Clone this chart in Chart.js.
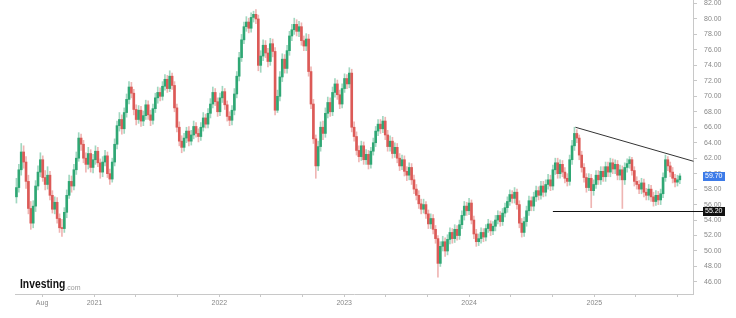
<!DOCTYPE html>
<html>
<head>
<meta charset="utf-8">
<script src="https://cdn.jsdelivr.net/npm/chart.js@4.4.1/dist/chart.umd.min.js"></script>
<style>
  html, body { margin: 0; padding: 0; background: #fff; }
</style>
</head>
<body>
<canvas id="chart" width="736" height="318"></canvas>
<script>
// weekly candles, first week starting on this date
const firstWeek = '2020-05-18';

const opens = [
  57.0, 58.2, 60.5, 62.8, 61.5, 59.0, 55.5, 53.6, 55.8, 58.4,
  60.2, 61.8, 59.5, 58.6, 59.8, 57.2, 55.4, 56.3, 54.2, 53.0,
  52.9, 55.0, 57.2, 59.0, 58.4, 60.5, 62.0, 64.6, 63.8, 62.0,
  61.2, 62.6, 60.8, 61.8, 62.9, 61.4, 60.2, 61.5, 62.3, 60.0,
  59.3, 61.5, 63.8, 66.2, 67.0, 65.8, 67.9, 69.6, 71.2, 70.4,
  68.3, 67.0, 68.2, 66.8, 67.5, 68.9, 67.6, 66.9, 68.4, 69.8,
  70.5, 70.0, 71.3, 72.2, 71.0, 72.6, 71.4, 68.5, 66.0, 64.2,
  63.4, 64.6, 65.5, 64.2, 65.0, 66.1, 65.2, 64.8, 66.0, 67.2,
  66.4, 67.8, 69.0, 70.5, 69.3, 68.0, 69.8, 70.6, 68.9, 67.4,
  66.9, 68.2, 70.3, 72.6, 75.0, 77.3, 79.0, 79.6, 78.8, 80.2,
  80.6, 80.0, 74.0, 75.2, 76.6, 75.6, 74.5, 76.8, 75.8, 68.2,
  70.0, 72.5, 74.8, 73.6, 75.9, 77.8, 78.6, 79.3, 78.4, 79.0,
  77.2, 76.5, 77.4, 73.2, 69.0, 64.5, 61.0, 63.5, 66.0, 65.2,
  67.8, 69.2, 68.0, 70.5, 71.6, 70.2, 69.0, 71.0, 72.3, 71.6,
  73.0, 66.0, 64.8, 63.0, 62.2, 63.6, 61.8, 62.5, 61.2, 62.9,
  64.0, 65.5, 66.4, 65.8, 66.8, 65.0, 63.5, 64.2, 62.6, 63.4,
  62.0, 61.0, 61.8, 60.3, 59.8, 60.8, 59.2, 58.0, 57.2, 56.1,
  55.4, 56.0, 54.8, 53.5, 54.2, 52.8, 51.6, 48.4, 50.6, 51.2,
  50.0, 51.5, 52.4, 51.6, 52.8, 52.0, 53.4, 54.6, 55.8, 55.2,
  56.2, 54.0, 52.2, 51.2, 51.6, 52.4, 51.8, 52.9, 53.5, 52.6,
  53.2, 54.0, 54.6, 53.8, 54.9, 55.6, 56.4, 57.3, 56.8, 57.6,
  56.0, 53.6, 52.4, 53.8, 55.2, 56.5, 55.8, 57.0, 57.8, 57.2,
  58.4, 57.6, 58.6, 59.2, 58.4, 60.5, 61.4, 60.0, 61.2, 60.2,
  59.4, 59.0, 61.8, 63.6, 65.2, 64.6, 62.4, 60.8, 59.5, 58.2,
  59.4, 57.8, 58.6, 59.8, 59.2, 60.3, 59.6, 60.9, 60.2, 61.4,
  60.6, 61.2, 59.8, 60.5, 59.2, 60.8, 61.3, 61.8, 60.4, 59.0,
  58.6, 58.0, 58.8, 57.6, 57.2, 58.0, 57.0, 56.4, 57.2, 56.6,
  57.4, 59.5, 61.8, 61.0, 60.2, 59.4, 58.9, 59.2
];
const highs = [
  59.4, 61.2, 63.9, 63.6, 62.2, 59.8, 56.4, 56.5, 59.1, 61.0,
  62.7, 62.3, 60.4, 60.9, 60.3, 57.8, 57.0, 56.9, 54.8, 54.1,
  55.6, 57.9, 59.8, 59.7, 61.2, 62.8, 65.3, 65.1, 64.3, 62.7,
  63.4, 63.1, 62.5, 63.6, 63.4, 61.9, 62.2, 63.0, 62.8, 60.6,
  62.0, 64.5, 66.8, 67.9, 67.6, 68.5, 70.3, 71.9, 71.8, 70.9,
  68.9, 68.8, 68.7, 68.1, 69.5, 69.4, 68.2, 69.0, 70.4, 71.2,
  71.1, 71.9, 72.8, 72.7, 73.3, 73.0, 71.9, 69.0, 66.7, 64.9,
  65.2, 66.0, 66.1, 65.6, 66.8, 66.6, 65.8, 66.6, 67.9, 67.7,
  68.4, 69.7, 71.2, 71.0, 69.8, 70.4, 71.3, 71.0, 69.4, 68.0,
  68.8, 71.0, 73.2, 75.7, 78.0, 79.6, 80.3, 80.1, 80.8, 81.0,
  81.2, 80.5, 75.9, 77.3, 77.2, 76.2, 77.5, 77.4, 76.3, 70.8,
  73.2, 75.5, 75.4, 76.6, 78.4, 79.3, 80.1, 79.9, 79.7, 79.5,
  77.8, 78.1, 78.0, 73.8, 69.6, 65.0, 64.2, 66.7, 66.8, 68.5,
  69.9, 69.8, 71.2, 72.3, 72.1, 70.8, 71.6, 72.9, 72.8, 73.7,
  73.5, 66.7, 65.4, 63.6, 64.2, 64.1, 63.1, 63.0, 63.4, 64.6,
  66.1, 67.0, 67.0, 67.4, 67.3, 65.6, 64.9, 64.7, 64.0, 63.9,
  62.6, 62.4, 62.3, 60.9, 61.4, 61.3, 59.8, 58.6, 57.8, 56.7,
  56.7, 56.4, 55.3, 54.8, 54.7, 53.3, 52.0, 51.2, 51.9, 51.7,
  52.1, 53.0, 52.9, 53.4, 53.3, 54.0, 55.2, 56.4, 56.3, 56.8,
  56.6, 54.5, 52.8, 52.2, 53.0, 52.9, 53.4, 54.1, 53.9, 53.8,
  54.6, 55.2, 55.1, 55.5, 56.2, 57.0, 57.9, 57.8, 58.2, 58.0,
  56.5, 54.2, 54.4, 55.8, 57.1, 57.0, 57.6, 58.4, 58.3, 59.0,
  59.0, 59.2, 59.9, 59.8, 61.1, 62.0, 62.0, 61.8, 61.7, 60.8,
  60.0, 62.4, 64.3, 66.0, 65.7, 65.0, 62.9, 61.3, 60.0, 60.0,
  59.9, 59.2, 60.4, 60.4, 60.9, 60.9, 61.5, 61.5, 62.0, 61.9,
  61.8, 61.7, 61.1, 61.0, 61.4, 61.9, 62.2, 62.1, 60.9, 59.6,
  59.1, 59.4, 59.3, 58.1, 58.6, 58.5, 57.6, 57.8, 57.7, 58.0,
  60.1, 62.4, 62.2, 61.5, 60.8, 59.9, 59.8, 60.0
];
const lows = [
  56.2, 57.6, 59.8, 60.7, 58.1, 54.8, 52.8, 53.0, 55.1, 57.9,
  59.6, 59.0, 57.9, 58.0, 56.6, 54.9, 54.8, 53.6, 52.4, 51.9,
  52.4, 54.3, 56.8, 57.6, 57.9, 59.9, 61.6, 63.0, 61.4, 60.2,
  60.6, 60.2, 60.1, 61.2, 60.9, 59.4, 59.6, 61.0, 59.5, 58.6,
  58.9, 61.0, 63.2, 65.5, 65.1, 65.2, 67.3, 69.0, 69.8, 67.6,
  66.3, 66.5, 66.1, 66.2, 67.0, 67.0, 66.2, 66.4, 67.9, 69.1,
  69.4, 69.5, 70.8, 70.5, 70.6, 70.9, 68.0, 65.4, 63.6, 62.7,
  62.9, 64.0, 63.6, 63.7, 64.5, 64.7, 64.1, 64.3, 65.5, 65.9,
  65.9, 67.2, 68.5, 68.8, 67.4, 67.5, 69.2, 68.3, 66.8, 66.2,
  66.3, 67.6, 69.8, 72.0, 74.5, 76.8, 78.4, 78.2, 78.3, 79.6,
  79.4, 73.3, 73.1, 74.6, 75.0, 73.8, 74.0, 75.1, 67.6, 67.9,
  69.4, 71.9, 73.0, 73.0, 75.3, 77.2, 78.0, 77.8, 77.7, 76.6,
  75.9, 75.9, 72.6, 68.4, 63.9, 59.4, 60.4, 62.9, 64.4, 64.7,
  67.2, 67.4, 67.5, 69.9, 69.6, 68.4, 68.5, 70.5, 71.0, 71.1,
  65.4, 64.2, 62.4, 61.5, 61.7, 61.2, 61.2, 60.6, 60.7, 62.4,
  63.5, 64.9, 65.2, 65.3, 64.4, 62.9, 62.9, 62.0, 62.1, 61.4,
  60.4, 60.5, 59.7, 59.1, 59.2, 58.6, 57.4, 56.6, 55.5, 54.8,
  54.9, 54.2, 52.9, 52.9, 52.2, 51.0, 46.6, 48.0, 50.0, 49.3,
  49.5, 50.9, 51.0, 51.1, 51.4, 51.5, 52.9, 54.0, 54.6, 54.7,
  53.5, 51.6, 50.6, 50.7, 51.0, 51.2, 51.3, 52.4, 52.0, 52.1,
  52.6, 53.5, 53.2, 53.3, 54.4, 55.0, 55.9, 56.2, 56.2, 55.4,
  53.0, 51.8, 51.9, 53.2, 54.6, 55.2, 55.2, 56.4, 56.6, 56.7,
  57.0, 57.1, 58.0, 57.8, 57.9, 59.9, 59.4, 59.4, 59.6, 58.8,
  58.4, 58.5, 61.2, 63.0, 64.0, 61.8, 60.2, 58.9, 57.6, 57.8,
  55.6, 57.2, 58.1, 58.6, 58.6, 59.0, 59.0, 59.6, 59.6, 60.0,
  60.0, 59.2, 59.2, 55.5, 58.6, 60.2, 60.7, 59.8, 58.4, 58.0,
  57.4, 57.4, 57.0, 56.6, 56.6, 56.4, 55.8, 55.9, 56.0, 56.0,
  56.9, 59.0, 60.4, 59.6, 58.8, 58.3, 58.4, 58.7
];
const closes = [
  58.2, 60.5, 62.8, 61.5, 59.0, 55.5, 53.6, 55.8, 58.4, 60.2,
  61.8, 59.5, 58.6, 59.8, 57.2, 55.4, 56.3, 54.2, 53.0, 52.9,
  55.0, 57.2, 59.0, 58.4, 60.5, 62.0, 64.6, 63.8, 62.0, 61.2,
  62.6, 60.8, 61.8, 62.9, 61.4, 60.2, 61.5, 62.3, 60.0, 59.3,
  61.5, 63.8, 66.2, 67.0, 65.8, 67.9, 69.6, 71.2, 70.4, 68.3,
  67.0, 68.2, 66.8, 67.5, 68.9, 67.6, 66.9, 68.4, 69.8, 70.5,
  70.0, 71.3, 72.2, 71.0, 72.6, 71.4, 68.5, 66.0, 64.2, 63.4,
  64.6, 65.5, 64.2, 65.0, 66.1, 65.2, 64.8, 66.0, 67.2, 66.4,
  67.8, 69.0, 70.5, 69.3, 68.0, 69.8, 70.6, 68.9, 67.4, 66.9,
  68.2, 70.3, 72.6, 75.0, 77.3, 79.0, 79.6, 78.8, 80.2, 80.6,
  80.0, 74.0, 75.2, 76.6, 75.6, 74.5, 76.8, 75.8, 68.2, 70.0,
  72.5, 74.8, 73.6, 75.9, 77.8, 78.6, 79.3, 78.4, 79.0, 77.2,
  76.5, 77.4, 73.2, 69.0, 64.5, 61.0, 63.5, 66.0, 65.2, 67.8,
  69.2, 68.0, 70.5, 71.6, 70.2, 69.0, 71.0, 72.3, 71.6, 73.0,
  66.0, 64.8, 63.0, 62.2, 63.6, 61.8, 62.5, 61.2, 62.9, 64.0,
  65.5, 66.4, 65.8, 66.8, 65.0, 63.5, 64.2, 62.6, 63.4, 62.0,
  61.0, 61.8, 60.3, 59.8, 60.8, 59.2, 58.0, 57.2, 56.1, 55.4,
  56.0, 54.8, 53.5, 54.2, 52.8, 51.6, 48.4, 50.6, 51.2, 50.0,
  51.5, 52.4, 51.6, 52.8, 52.0, 53.4, 54.6, 55.8, 55.2, 56.2,
  54.0, 52.2, 51.2, 51.6, 52.4, 51.8, 52.9, 53.5, 52.6, 53.2,
  54.0, 54.6, 53.8, 54.9, 55.6, 56.4, 57.3, 56.8, 57.6, 56.0,
  53.6, 52.4, 53.8, 55.2, 56.5, 55.8, 57.0, 57.8, 57.2, 58.4,
  57.6, 58.6, 59.2, 58.4, 60.5, 61.4, 60.0, 61.2, 60.2, 59.4,
  59.0, 61.8, 63.6, 65.2, 64.6, 62.4, 60.8, 59.5, 58.2, 59.4,
  57.8, 58.6, 59.8, 59.2, 60.3, 59.6, 60.9, 60.2, 61.4, 60.6,
  61.2, 59.8, 60.5, 59.2, 60.8, 61.3, 61.8, 60.4, 59.0, 58.6,
  58.0, 58.8, 57.6, 57.2, 58.0, 57.0, 56.4, 57.2, 56.6, 57.4,
  59.5, 61.8, 61.0, 60.2, 59.4, 58.9, 59.2, 59.7
];

const yTicks = [46, 48, 50, 52, 54, 56, 58, 60, 62, 64, 66, 68, 70, 72, 74, 76, 78, 80, 82];
const xTickDates = [
  '2020-08-01', '2021-01-01', '2021-05-01', '2021-09-01', '2022-01-01', '2022-05-01', '2022-09-01',
  '2023-01-01', '2023-05-01', '2023-09-01', '2024-01-01', '2024-05-01', '2024-09-01',
  '2025-01-01', '2025-05-01', '2025-09-01'
];
const xTickLabels = ['Aug', '2021', '', '', '2022', '', '', '2023', '', '', '2024', '', '', '2025', '', ''];

// drawn annotations (week index, price)
const lastPrice = 59.70;
const supportLevel = 55.20;
const supportFromWeek = 224;
const trendLine = [[233.4, 66.0], [282.7, 61.6]];

const WEEK = 7 * 864e5;
const weekOf = d => (Date.parse(d) - Date.parse(firstWeek)) / WEEK;

const UP = '#2fa774';
const DOWN = '#dc5a57';
const candleColors = closes.map((c, i) => c >= opens[i] ? UP : DOWN);
const wickColors = closes.map((c, i) => c >= opens[i] ? 'rgba(47,167,116,0.45)' : 'rgba(220,90,87,0.45)');

const FONT = "'Liberation Sans', Arial, sans-serif";

const overlayPlugin = {
  id: 'overlay',
  afterDatasetsDraw(chart) {
    const { ctx, chartArea, scales: { x, y } } = chart;
    ctx.save();
    // trend line
    ctx.beginPath();
    ctx.moveTo(x.getPixelForValue(trendLine[0][0]), y.getPixelForValue(trendLine[0][1]));
    ctx.lineTo(x.getPixelForValue(trendLine[1][0]), y.getPixelForValue(trendLine[1][1]));
    ctx.strokeStyle = '#333';
    ctx.lineWidth = 1;
    ctx.stroke();
    // support line, runs into the price label
    const sy = Math.round(y.getPixelForValue(supportLevel)) + 0.5;
    ctx.beginPath();
    ctx.moveTo(x.getPixelForValue(supportFromWeek), sy);
    ctx.lineTo(chartArea.right + 10, sy);
    ctx.lineWidth = 1.2;
    ctx.strokeStyle = '#111';
    ctx.stroke();
    ctx.restore();
  },
  afterDraw(chart) {
    const { ctx, chartArea, scales: { y } } = chart;
    ctx.save();
    const tag = (value, bg) => {
      const py = y.getPixelForValue(value);
      ctx.fillStyle = bg;
      ctx.fillRect(chartArea.right + 10, Math.round(py) - 4, 22, 9);
      ctx.fillStyle = '#fff';
      ctx.font = '7px ' + FONT;
      ctx.textBaseline = 'middle';
      ctx.textAlign = 'left';
      ctx.fillText(value.toFixed(2), chartArea.right + 12, Math.round(py) + 0.5);
    };
    tag(lastPrice, '#3d7be8');
    tag(supportLevel, '#111');

    // logo
    ctx.save();
    ctx.translate(20, 288);
    ctx.scale(0.86, 1);
    ctx.fillStyle = '#111';
    ctx.font = 'bold 12px ' + FONT;
    ctx.textBaseline = 'alphabetic';
    ctx.fillText('Investing', 0, 0);
    const w = ctx.measureText('Investing').width;
    ctx.restore();
    ctx.fillStyle = '#999';
    ctx.font = '7px ' + FONT;
    ctx.fillText('.com', 20 + w * 0.86, 288);
    ctx.restore();
  }
};

new Chart(document.getElementById('chart'), {
  type: 'bar',
  data: {
    datasets: [
      {
        label: 'wick',
        data: lows.map((l, i) => ({ x: i, y: [l, highs[i]] })),
        backgroundColor: wickColors,
        barThickness: 1,
        grouped: false,
        order: 2
      },
      {
        label: 'body',
        data: closes.map((c, i) => ({ x: i, y: [opens[i], c] })),
        backgroundColor: candleColors,
        barThickness: 2,
        minBarLength: 1,
        grouped: false,
        order: 1
      }
    ]
  },
  options: {
    responsive: false,
    animation: false,
    layout: { padding: { left: 15, top: 0, right: 0, bottom: 0 } },
    plugins: {
      legend: { display: false },
      tooltip: { enabled: false }
    },
    scales: {
      x: {
        type: 'linear',
        min: -0.6,
        max: 282.5,
        offset: false,
        afterBuildTicks: scale => {
          scale.ticks = xTickDates.map(d => ({ value: weekOf(d) }));
        },
        afterFit: scale => {
          scale.height = 24;
          scale.paddingLeft = 0;
          scale.paddingRight = 0;
        },
        grid: { drawOnChartArea: false, offset: false, tickLength: 3, color: '#c8c8c8' },
        border: { color: '#c8c8c8' },
        ticks: {
          autoSkip: false,
          maxRotation: 0,
          padding: 2,
          color: '#888',
          font: { family: FONT, size: 7 },
          callback: (v, i) => xTickLabels[i]
        }
      },
      y: {
        position: 'right',
        min: 44.44,
        max: 82.45,
        afterBuildTicks: scale => {
          scale.ticks = yTicks.map(v => ({ value: v }));
        },
        afterFit: scale => {
          scale.width = 43;
          scale.paddingTop = 0;
          scale.paddingBottom = 0;
        },
        grid: { drawOnChartArea: false, tickLength: 4, color: '#c8c8c8' },
        border: { color: '#c8c8c8' },
        ticks: {
          padding: 7,
          color: '#888',
          font: { family: FONT, size: 7 },
          callback: v => v.toFixed(2)
        }
      }
    }
  },
  plugins: [overlayPlugin]
});
</script>
</body>
</html>
